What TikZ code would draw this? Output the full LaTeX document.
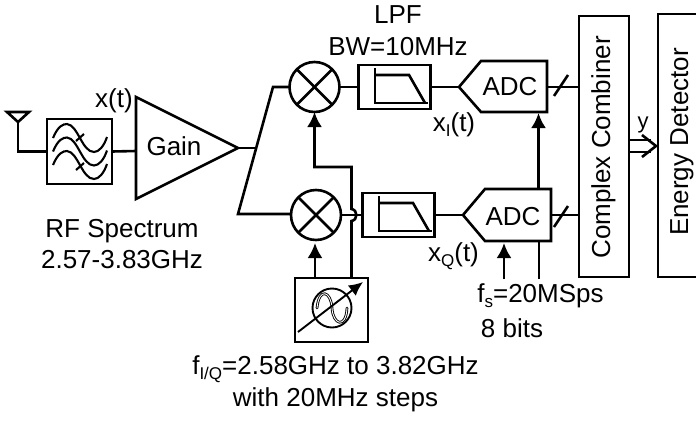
\documentclass[tikz,border=0pt]{standalone}
\usepackage{fontspec}
\setmainfont{Liberation Sans}
\usetikzlibrary{calc,arrows.meta}
\newcommand{\lowtext}[1]{\raisebox{-0.22em}{\fontsize{17}{17}\selectfont #1}}

\tikzset{
  lpficon/.pic={
    \draw (-19.5,-19) -- (-19.5,16) -- (33.5,16);
    \draw (-19.5,-12) -- (14.5,-12) -- (30.5,16);
  }
}

\begin{document}
\begin{tikzpicture}[
  x=1pt, y=-1pt,
  line width=2.6pt,
  every node/.style={font=\fontsize{26}{30}\selectfont, inner sep=0pt, outer sep=0pt},
  label text/.style={anchor=base, align=center},
  mixer/.style={circle, draw, minimum size=50pt},
  lpf/.style={rectangle, draw, minimum width=72pt, minimum height=44pt},
  tall box/.style={rectangle, draw, minimum width=50pt, minimum height=261pt},
  clk/.style={-{Latex[length=15pt,width=15pt]}}
]
\useasboundingbox (0,0) rectangle (696,421);

% RF input
\coordinate (ant) at (18,122);
\draw (7,112) -- (29,112) -- (ant) -- cycle;
\node[rectangle, draw, minimum width=65pt, minimum height=65pt] (rf) at (79.5,151.5) {};
\draw (ant) |- (rf.west);
\foreach \dy in {0,13.5,27} {
  \draw[line width=2.1pt, yshift=-\dy pt] (53,138) .. controls (58,126) and (63,124) .. (67,124)
    .. controls (78,125) and (82,152) .. (94,152) .. controls (99,152) and (104,146) .. (107,137);
}
\draw[line width=2.1pt] (76,141) -- (84,134);
\draw[line width=2.1pt] (76,170) -- (84,163);

% gain
\coordinate (gainin) at (136,151);
\coordinate (gainout) at (238,148);
\coordinate (split) at (256,148);
\draw (136,97) -- (gainout) -- (136,199) -- cycle;
\node[label text] (gain) at (174,155) {Gain};
\draw (rf.east) -- (gainin);
\draw (gainout) -- (split);
\node[label text] (xt) at (114,107) {x(t)};
\node[label text] (rftxt) at (122,237) {RF Spectrum};
\node[label text] (rfband) at (122,268) {2.57-3.83GHz};

% mixers and filters
\node[mixer] (mixI) at (314.5,87) {};
\node[mixer] (mixQ) at (316,215) {};
\foreach \m in {mixI,mixQ} {
  \draw (\m.45) -- (\m.225);
  \draw (\m.135) -- (\m.315);
}
\coordinate (splitI) at (273,87);
\coordinate (splitQ) at (238,214);
\draw (mixI.west) -- (splitI) -- (splitQ) -- (mixQ.west |- splitQ);
\node[lpf] (lpfI) at (394.5,87) {};
\node[lpf] (lpfQ) at (398.5,215) {};
\pic at (lpfI) {lpficon};
\pic at (lpfQ) {lpficon};
\draw (mixI.east) -- (lpfI.west);
\draw (mixQ.east) -- (lpfQ.west);
\node[label text] (lpftxt) at (398,23) {LPF};
\node[label text] (bwtxt) at (398,55) {BW=10MHz};

% ADCs
\coordinate (adcI) at (459,87);
\coordinate (adcQ) at (463,215);
\draw (adcI) -- (481,61) -- (547,61) -- (547,112) -- (481,112) -- cycle;
\draw (adcQ) -- (485,189) -- (551,189) -- (551,241) -- (485,241) -- cycle;
\node[label text] (adcItxt) at (510,95) {ADC};
\node[label text] (adcQtxt) at (513,225) {ADC};
\draw (lpfI.east) -- (adcI);
\draw (lpfQ.east) -- (adcQ);
\node[label text] (xI) at (454,131) {x\lowtext{I}(t)};
\node[label text] (xQ) at (453.5,261) {x\lowtext{Q}(t)};

% LO
\node[rectangle, draw, minimum width=73pt, minimum height=64pt] (lo) at (331.5,310) {};
\node[circle, draw, line width=1.9pt, minimum size=39pt] (losc) at (332,308) {};
\draw[line width=0.9pt, double, double distance=0.9pt, line cap=round] (317,308) .. controls (319,287) and (331,291) .. (332,308)
  .. controls (333,325) and (346,329) .. (347,308);
\coordinate (tuneA) at (298,332);
\coordinate (tuneB) at (363,282);
\draw[line width=1.9pt, -{Latex[length=14pt,width=13pt]}] (tuneA) -- (tuneB);
\coordinate (hopA) at (351.5,221);
\coordinate (hopB) at (351.5,209);
\draw[clk] (lo.north -| hopA) -- (hopA) .. controls (358,220) and (358,210) .. (hopB) -- (351.5,167) -- (314.5,167) -- (mixI.south);
\draw[clk] (lo.north -| mixQ.south) ++(-1,0) -- ++(0,-35);
\node[label text] (fiq) at (335.5,374) {f\lowtext{I/Q}=2.58GHz to 3.82GHz};
\node[label text] (steps) at (335.5,406) {with 20MHz steps};

% clock
\coordinate (clkin) at (504,279);
\coordinate (bitsin) at (539,279);
\draw[clk] (clkin) -- (clkin |- 0,243);
\draw (bitsin) -- (bitsin |- 0,241);
\draw[clk] (538.5,189) -- (538.5,113);
\node[label text] (fstxt) at (540.5,302) {f\lowtext{s}=20MSps};
\node[label text] (bits) at (512,337) {8 bits};

% combiner and detector
\node[tall box] (comb) at (604,146.5) {};
\node[label text, rotate=90] (combtxt) at (610,147.5) {Complex Combiner};
\draw (547,87) -- (comb.west |- 0,87);
\draw (551,215) -- (comb.west |- 0,215);
\draw (554,96) -- (568,75);
\draw (554,227) -- (568,206);
\coordinate (detin) at (656,146);
\draw (696,14) -- (658,14) -- (658,277) -- (696,277);
\node[label text, rotate=90] (dettxt) at (688,142) {Energy Detector};
\draw (comb.east |- 0,140) -- (651,140);
\draw (comb.east |- 0,152) -- (651,152);
\draw (642,135) -- (detin) -- (642,157);
\node[label text, font=\fontsize{22}{26}\selectfont] (ytxt) at (643,128) {y};
\end{tikzpicture}
\end{document}
